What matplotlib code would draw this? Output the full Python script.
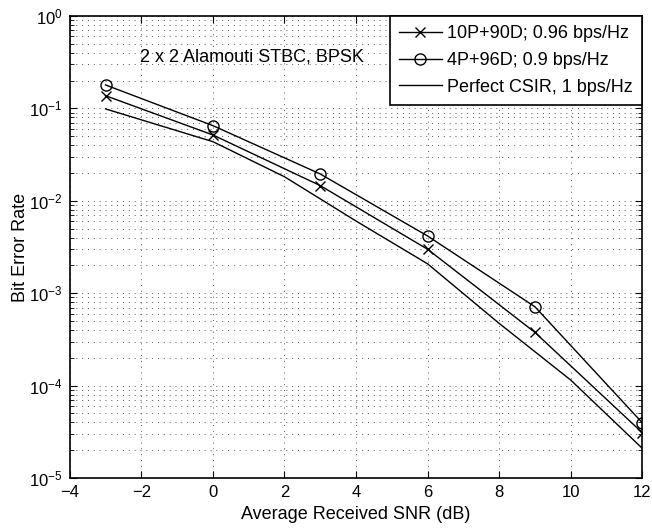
import matplotlib
matplotlib.use("Agg")
import matplotlib.pyplot as plt
from matplotlib.ticker import LogLocator, NullFormatter

plt.rcParams['font.family'] = ['Liberation Sans', 'DejaVu Sans']
plt.rcParams['mathtext.fontset'] = 'custom'
plt.rcParams['mathtext.rm'] = 'Liberation Sans'
plt.rcParams['mathtext.default'] = 'regular'

snr = [-3, 0, 3, 6, 9, 12]
ber_10p = [0.137, 0.0515, 0.0146, 0.00299, 3.77e-4, 3.1e-5]
ber_4p = [0.179, 0.065, 0.0195, 0.00416, 7.14e-4, 3.97e-5]
snr_perfect = [-3, 0, 2, 4, 6, 8, 10, 12]
ber_perfect = [0.0986, 0.0436, 0.0182, 0.00604, 0.00208, 4.72e-4, 1.15e-4, 2.1e-5]

labels = ['10P+90D; 0.96 bps/Hz', '4P+96D; 0.9 bps/Hz', 'Perfect CSIR, 1 bps/Hz']
xticks = [-4, -2, 0, 2, 4, 6, 8, 10, 12]

fig = plt.figure(figsize=(6.52, 5.30), dpi=100)
ax = fig.add_axes([0.107, 0.098, 0.878, 0.872])

ax.semilogy(snr, ber_10p, color='black', lw=1.0, marker='x', ms=7, mew=1.0, label=labels[0])
ax.semilogy(snr, ber_4p, color='black', lw=1.0, marker='o', ms=8, mfc='none', mew=1.0, label=labels[1])
ax.semilogy(snr_perfect, ber_perfect, color='black', lw=1.0, label=labels[2])

ax.set_xlim(-4, 12)
ax.set_ylim(1e-5, 1)
ax.set_xticks(xticks)
ax.set_xticklabels([('\u2212%d' % -t) if t < 0 else str(t) for t in xticks])
ax.yaxis.set_major_locator(LogLocator(base=10, numticks=10))
ax.yaxis.set_minor_locator(LogLocator(base=10, subs=range(2, 10), numticks=100))
ax.yaxis.set_minor_formatter(NullFormatter())

gstyle = dict(linestyle=(0, (1, 5)), color='#555555', lw=0.7)
ax.grid(True, which='major', axis='both', **gstyle)
ax.grid(True, which='minor', axis='y', **gstyle)

ax.tick_params(which='both', direction='in', top=True, right=True, labelsize=12)
ax.tick_params(which='major', length=5, pad=5)
ax.tick_params(which='minor', length=3)
for s in ax.spines.values():
    s.set_linewidth(1.2)

ax.set_xlabel('Average Received SNR (dB)', fontsize=13, labelpad=4)
ax.set_ylabel('Bit Error Rate', fontsize=13, labelpad=0)

ax.text(-2.05, 0.36, '2 x 2 Alamouti STBC, BPSK', fontsize=13, va='center')

leg = ax.legend(loc='upper right', fontsize=13, frameon=True, fancybox=False,
                edgecolor='black', framealpha=1, borderaxespad=0, handlelength=2.4,
                handletextpad=0.3, borderpad=0.5, labelspacing=0.55)
leg.get_frame().set_linewidth(1.2)

fig.savefig('out.png', dpi=100)
